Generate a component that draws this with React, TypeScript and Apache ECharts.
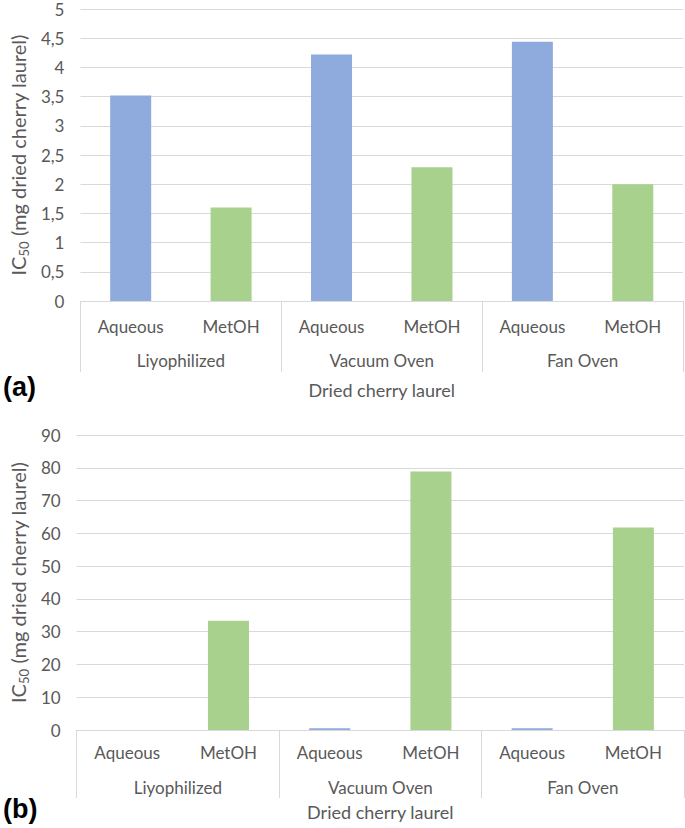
import React, { useEffect, useRef } from "react";
import * as echarts from "echarts";

const items = ["Aqueous", "MetOH", "Aqueous", "MetOH", "Aqueous", "MetOH"];
const groups = ["Liyophilized", "Vacuum Oven", "Fan Oven"];
const valuesA = [3.52, 1.6, 4.22, 2.29, 4.44, 2.0];
const valuesB = [0, 33.3, 0.5, 78.9, 0.5, 61.8];
const extractColors: Record<string, string> = { Aqueous: "#8faadc", MetOH: "#a9d18e" };

const FONT = "Lato, 'Open Sans', sans-serif";
const TXT = "#595959";
const GRID = "#d9d9d9";

function yName() {
  return {
    name: "{a|IC}{s|50}{a| (mg dried cherry laurel)}",
    nameLocation: "middle" as const,
    nameRotate: 90,
    nameTextStyle: {
      rich: {
        a: { fontSize: 20, color: TXT, fontFamily: FONT, lineHeight: 24 },
        s: { fontSize: 13, color: TXT, fontFamily: FONT, lineHeight: 13, verticalAlign: "bottom" },
      },
    },
  };
}

export default function App() {
  const ref = useRef<HTMLDivElement>(null);
  useEffect(() => {
    document.body.style.margin = "0";
    const chart = echarts.init(ref.current!, undefined, { renderer: "svg" });
    const barData = (vals: number[]) =>
      vals.map((v, i) => ({ value: v, itemStyle: { color: extractColors[items[i]] } }));
    const itemAxis = (gridIndex: number, margin: number) => ({
      type: "category" as const,
      gridIndex,
      data: items,
      position: "bottom" as const,
      axisLine: { show: true, lineStyle: { color: GRID, width: 1 } },
      axisTick: { show: false },
      axisLabel: { interval: 0, margin, fontSize: 17, color: TXT, fontFamily: FONT },
      splitLine: { show: false },
    });
    const groupAxis = (gridIndex: number, tickLen: number, margin: number, nameGap: number) => ({
      type: "category" as const,
      gridIndex,
      data: groups,
      position: "bottom" as const,
      axisLine: { show: false },
      axisTick: { show: true, interval: 0, length: tickLen, lineStyle: { color: GRID, width: 1 } },
      axisLabel: { interval: 0, margin, fontSize: 17, color: TXT, fontFamily: FONT },
      splitLine: { show: false },
      name: "Dried cherry laurel",
      nameLocation: "middle" as const,
      nameGap,
      nameTextStyle: { fontSize: 18, color: TXT, fontFamily: FONT },
    });
    const valAxis = (gridIndex: number, max: number, interval: number, gap: number, comma: boolean) => ({
      type: "value" as const,
      gridIndex,
      min: 0,
      max,
      interval,
      ...yName(),
      nameGap: gap,
      axisLine: { show: false },
      axisTick: { show: false },
      axisLabel: {
        margin: 16,
        fontSize: 17,
        color: TXT,
        fontFamily: FONT,
        formatter: (v: number) => (comma ? String(v).replace(".", ",") : String(v)),
      },
      splitLine: { show: true, lineStyle: { color: GRID, width: 1 } },
    });
    chart.setOption({
      animation: false,
      grid: [
        { left: 69, right: 2, top: 9, height: 292 },
        { left: 63, right: 1, top: 435, height: 295 },
      ],
      xAxis: [
        itemAxis(0, 17),
        groupAxis(0, 71, 51, 80),
        itemAxis(1, 14),
        groupAxis(1, 68, 49, 73),
      ],
      yAxis: [valAxis(0, 5, 0.5, 46, true), valAxis(1, 90, 10, 40, false)],
      series: [
        { type: "bar", xAxisIndex: 0, yAxisIndex: 0, barWidth: 41, data: barData(valuesA) },
        { type: "bar", xAxisIndex: 2, yAxisIndex: 1, barWidth: 41, data: barData(valuesB) },
      ],
      graphic: [
        {
          type: "text",
          left: 3,
          top: 373,
          style: { text: "(a)", fontSize: 27, fontWeight: "bold", fill: "#000", fontFamily: "'Liberation Sans', Arial, sans-serif" },
        },
        {
          type: "text",
          left: 3,
          top: 795,
          style: { text: "(b)", fontSize: 27, fontWeight: "bold", fill: "#000", fontFamily: "'Liberation Sans', Arial, sans-serif" },
        },
      ],
    });
    return () => chart.dispose();
  }, []);
  return <div ref={ref} style={{ width: 685, height: 828 }} />;
}
